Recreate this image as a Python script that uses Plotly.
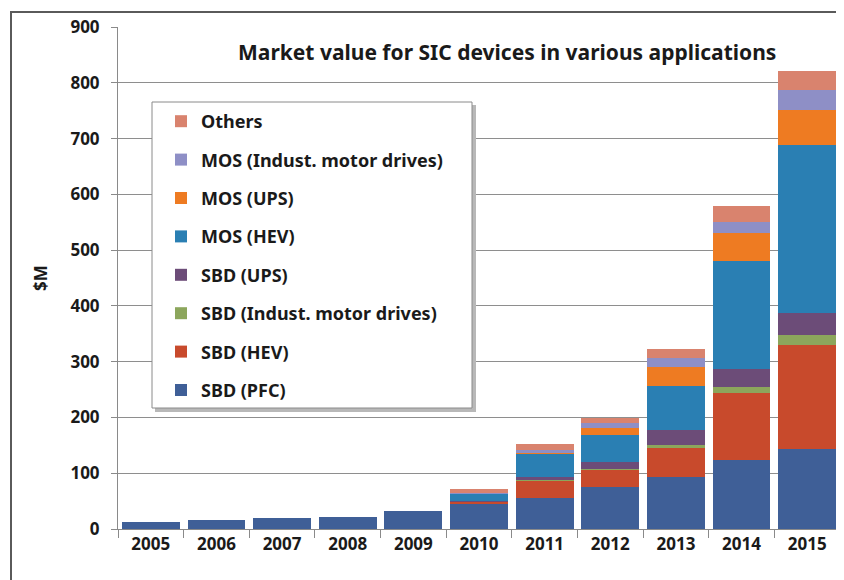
import plotly.graph_objects as go

years = ["2005", "2006", "2007", "2008", "2009", "2010", "2011", "2012", "2013", "2014", "2015"]

sbd_pfc = [12, 16, 19, 22, 32, 46, 55, 75, 94, 124, 143]
sbd_hev = [0, 0, 0, 0, 0, 3, 32, 31, 51, 120, 187]
sbd_ind = [0, 0, 0, 0, 0, 0, 1, 2, 6, 10, 18]
sbd_ups = [0, 0, 0, 0, 0, 2, 5, 13, 27, 32, 39]
mos_hev = [0, 0, 0, 0, 0, 12, 42, 48, 78, 194, 302]
mos_ups = [0, 0, 0, 0, 0, 0, 2, 12, 35, 50, 62]
mos_ind = [0, 0, 0, 0, 0, 2, 4, 9, 15, 21, 36]
others = [0, 0, 0, 0, 0, 6, 11, 9, 17, 28, 35]

series = [
    ("SBD (PFC)", sbd_pfc, "#3F5F97"),
    ("SBD (HEV)", sbd_hev, "#C84A2C"),
    ("SBD (Indust. motor drives)", sbd_ind, "#8CA65C"),
    ("SBD (UPS)", sbd_ups, "#6C4C78"),
    ("MOS (HEV)", mos_hev, "#2A7FB3"),
    ("MOS (UPS)", mos_ups, "#EE7B22"),
    ("MOS (Indust. motor drives)", mos_ind, "#8E8FC6"),
    ("Others", others, "#D9836E"),
]

FONT = "Noto Sans"
TXT = "#1a1a1a"

fig = go.Figure()
n = len(series)
for i, (name, vals, col) in enumerate(series):
    fig.add_trace(go.Bar(x=years, y=vals, name=name, marker=dict(color=col, line=dict(width=0)),
                         legendgroup=f"g{i}", legendrank=n - i))

# screen-coordinate helpers (page has an 8px body margin)
L, R, T, B = 118, 840, 27, 529
def px(x):
    return (x - L) / (R - L)
def py(y):
    return (B - y) / (B - T)

shapes = [
    dict(type="rect", xref="paper", yref="paper", x0=px(11), x1=1.2, y0=-0.2, y1=py(12),
         line=dict(color="#5a5a5a", width=2), fillcolor="rgba(0,0,0,0)", layer="below"),
    dict(type="rect", xref="paper", yref="paper", x0=px(155), x1=px(476), y0=py(412), y1=py(105),
         line=dict(width=0), fillcolor="#b8b8b8", layer="above"),
    dict(type="rect", xref="paper", yref="paper", x0=px(152), x1=px(472), y0=py(408), y1=py(102),
         line=dict(color="#8a8a8a", width=1), fillcolor="white", layer="above"),
]

fig.update_layout(
    width=836, height=572,
    margin=dict(l=110, r=4, t=19, b=51),
    paper_bgcolor="white", plot_bgcolor="white",
    barmode="stack", bargap=0.12,
    font=dict(family=FONT, color=TXT),
    showlegend=True,
    legend=dict(x=px(161), y=py(103), xanchor="left", yanchor="top",
                traceorder="grouped", tracegroupgap=12,
                bgcolor="rgba(0,0,0,0)", borderwidth=0,
                font=dict(family=FONT, size=18, color=TXT, weight="bold")),
    shapes=shapes,
    annotations=[
        dict(text="Market value for SIC devices in various applications", xref="paper", yref="paper",
             x=px(507), y=py(52), xanchor="center", yanchor="middle", showarrow=False,
             font=dict(family=FONT, size=21, color=TXT, weight="bold")),
    ],
    xaxis=dict(showline=True, linecolor="#8a8a8a", linewidth=1, ticks="outside", tickson="boundaries",
               ticklen=8, tickcolor="#8a8a8a",
               tickfont=dict(family=FONT, size=17, color=TXT, weight="bold")),
    yaxis=dict(range=[0, 900], dtick=100, showgrid=True, gridcolor="#8e8e8e", gridwidth=1,
               showline=True, linecolor="#8a8a8a", linewidth=1, ticks="outside", ticklen=6,
               tickcolor="#8a8a8a", zeroline=False, ticklabelstandoff=8,
               tickfont=dict(family=FONT, size=17, color=TXT, weight="bold"),
               title=dict(text="$M", standoff=18, font=dict(family=FONT, size=17, color=TXT, weight="bold"))),
)

fig.write_html("out.html")
